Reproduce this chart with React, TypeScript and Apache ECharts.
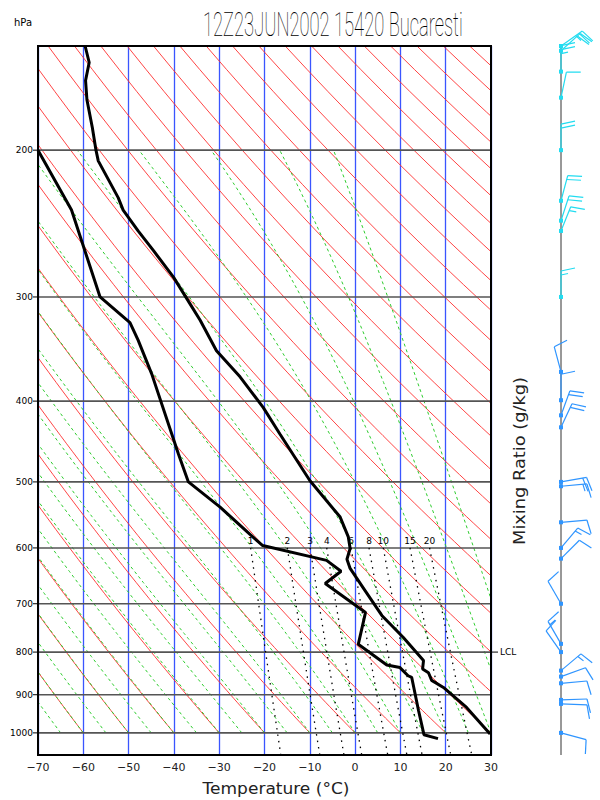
import React, { useEffect, useRef } from 'react';
import * as echarts from 'echarts';

const TITLE = '12Z23JUN2002 15420 Bucaresti';
const X_NAME = 'Temperature (\u00b0C)';
const MIX_NAME = 'Mixing Ratio (g/kg)';
const ISOBARS = [200, 300, 400, 500, 600, 700, 800, 900, 1000];
const THETA_LIST = [-70, -60, -50, -40, -30, -20, -10, 0, 10, 20, 30, 40, 50, 60, 70, 80, 90, 100, 110, 120, 130, 140, 150, 160, 170, 180, 190, 200, 210, 220, 230, 240, 250];
const THETAW_LIST = [-70, -65, -60, -55, -50, -45, -40, -35, -30, -25, -20, -15, -10, -5, 0, 5, 10, 15, 20, 25, 30, 35, 40];
const MIX_LIST = [1, 2, 3, 4, 6, 8, 10, 15, 20];

const TEMP_T = [-59.6, -58.7, -59.5, -59.2, -58.0, -57.2, -56.7, -52.3, -51.2, -47.9, -44.5, -40.1, -36.4, -34.2, -30.6, -25.4, -20.3, -16.6, -10.0, -3.3, -1.5, -1.1, -1.8, -1.1, 2.2, 5.9, 10.6, 15.1, 14.9, 16.2, 16.9, 19.5, 24.6, 29.8];
const TEMP_P = [150, 157, 165, 174, 188, 200, 206, 228, 236, 250, 264, 284, 306, 320, 348, 374, 407, 438, 498, 551, 582, 601, 619, 635, 675, 723, 768, 819, 838, 847, 865, 882, 932, 1003];
const DEW_T = [-70, -62.6, -56.3, -49.7, -47.9, -44.9, -39.0, -36.8, -29.8, -23.2, -20.4, -6.3, -3.1, -6.6, 2.3, 0.7, 7.0, 9.9, 11.7, 12.5, 14.0, 15.2, 18.3];
const DEW_P = [200, 236, 300, 322, 338, 371, 463, 500, 536, 578, 596, 621, 640, 662, 717, 783, 829, 835, 854, 858, 940, 1005, 1016];

const WIND_P = [150, 152, 161, 173, 200, 230, 243, 250, 300, 369, 399, 416, 430, 500, 506, 559, 600, 618, 700, 782, 800, 842, 856, 872, 913, 923, 1000];
const WIND_DIR = [55, 48, 0, 12, 0, 15, 18, 22, 0, 345, 0, 20, 25, 80, 85, 85, 40, 45, 330, 330, 325, 50, 70, 85, 88, 92, 105];
const WIND_SPD = [25, 20, 25, 10, 20, 20, 20, 15, 15, 10, 10, 20, 20, 20, 15, 10, 15, 10, 10, 15, 10, 15, 10, 10, 10, 10, 10];

const LCL_P = 800;
const P_TOP = 150;
const P_BOT = 1063;

function satVap(tc: number) {
  return 6.112 * Math.exp((17.67 * tc) / (tc + 243.5));
}
function dryAdiabat(thC: number) {
  const pts: number[][] = [];
  for (let p = P_TOP; p <= 1000; p += 10) {
    pts.push([(thC + 273.15) * Math.pow(p / 1000, 0.2857) - 273.15, p]);
  }
  return pts;
}
function lapse(T: number, p: number) {
  const Rd = 287.04, cp = 1005.7, Lv = 2.501e6, eps = 0.622;
  const es = satVap(T - 273.15);
  const rs = (eps * es) / (p - es);
  return (Rd * T + Lv * rs) / (p * (cp + (Lv * Lv * rs * eps) / (Rd * T * T)));
}
function moistAdiabat(twC: number) {
  const pts: number[][] = [[twC, 1000]];
  let T = twC + 273.15;
  let p = 1000;
  const dp = -2;
  let i = 0;
  while (p > 200.001) {
    const k1 = lapse(T, p);
    const k2 = lapse(T + (k1 * dp) / 2, p + dp / 2);
    T += k2 * dp;
    p += dp;
    i++;
    if (i % 5 === 0) pts.push([T - 273.15, p]);
  }
  return pts;
}
function mixT(w: number, p: number) {
  const e = (w * p) / (622 + w);
  const l = Math.log(e / 6.112);
  return (243.5 * l) / (17.67 - l);
}
function mixLine(w: number) {
  const pts: number[][] = [];
  for (let p = 600; p <= P_BOT; p += 20) pts.push([mixT(w, p), p]);
  pts.push([mixT(w, P_BOT), P_BOT]);
  return pts;
}

export default function App() {
  const ref = useRef<HTMLDivElement>(null);
  useEffect(() => {
    document.body.style.margin = '0';
    const chart = echarts.init(ref.current!, null, { renderer: 'svg' });
    const ctx = document.createElement('canvas').getContext('2d')!;
    const measure = (t: string, f: string, fallback: number) => {
      ctx.font = f;
      return ctx.measureText(t).width || fallback;
    };
    const titleFont = '100 34px Roboto';
    const titleScale = 260 / measure(TITLE, titleFont, 520);
    const xNameFont = '15px "DejaVu Sans"';
    const xNameScale = 147 / measure(X_NAME, xNameFont, 140);
    const mixFont = '15px "DejaVu Sans"';
    const mixScale = 168 / measure(MIX_NAME, mixFont, 150);

    const series: any[] = [];
    THETA_LIST.forEach((th) => {
      series.push({
        type: 'line', silent: true, symbol: 'none', z: 2,
        data: dryAdiabat(th),
        lineStyle: { color: '#ff3030', width: 0.9 },
      });
    });
    THETAW_LIST.forEach((tw2) => {
      series.push({
        type: 'line', silent: true, symbol: 'none', z: 3,
        data: moistAdiabat(tw2),
        lineStyle: { color: '#2ecc2e', width: 1, type: [3, 3] },
      });
    });
    ISOBARS.forEach((p) => {
      series.push({
        type: 'line', silent: true, symbol: 'none', z: 4,
        data: [[-70, p], [30, p]],
        lineStyle: { color: '#555', width: 1.6 },
      });
    });
    MIX_LIST.forEach((w) => {
      series.push({
        type: 'line', silent: true, symbol: 'none', z: 5,
        data: mixLine(w),
        lineStyle: { color: '#000', width: 1.3, type: [1.5, 5] },
      });
    });
    series.push({
      type: 'custom', z: 6, silent: true, clip: false,
      data: MIX_LIST.map((w) => [mixT(w, 600), 589, w]),
      encode: { x: 0, y: 1 },
      renderItem: (params: any, api: any) => {
        const pt = api.coord([api.value(0), api.value(1)]);
        return {
          type: 'text', x: pt[0], y: pt[1],
          style: { text: String(api.value(2)), align: 'center', verticalAlign: 'middle', font: '9px "DejaVu Sans"', fill: '#000' },
        };
      },
    });
    series.push({
      type: 'line', silent: true, symbol: 'none', z: 10,
      data: DEW_T.map((t, i) => [t, DEW_P[i]]),
      lineStyle: { color: '#000', width: 3 },
    });
    series.push({
      type: 'line', silent: true, symbol: 'none', z: 10,
      data: TEMP_T.map((t, i) => [t, TEMP_P[i]]),
      lineStyle: { color: '#000', width: 3 },
    });
    series.push({
      type: 'custom', z: 11, silent: true, clip: false,
      data: ISOBARS.map((p) => [-70, p]),
      encode: { x: 0, y: 1 },
      renderItem: (params: any, api: any) => {
        const pt = api.coord([api.value(0), api.value(1)]);
        return {
          type: 'group',
          children: [
            { type: 'line', shape: { x1: pt[0] - 5, y1: pt[1], x2: pt[0], y2: pt[1] }, style: { stroke: '#000', lineWidth: 1 } },
            { type: 'text', x: pt[0] - 5, y: pt[1], style: { text: String(api.value(1)), align: 'right', verticalAlign: 'middle', font: '9px "DejaVu Sans"', fill: '#000' } },
          ],
        };
      },
    });
    series.push({
      type: 'custom', z: 11, silent: true, clip: false,
      data: [[30, LCL_P]],
      encode: { x: 0, y: 1 },
      renderItem: (params: any, api: any) => {
        const pt = api.coord([api.value(0), api.value(1)]);
        return {
          type: 'group',
          children: [
            { type: 'line', shape: { x1: pt[0], y1: pt[1], x2: pt[0] + 7, y2: pt[1] }, style: { stroke: '#000', lineWidth: 1 } },
            { type: 'text', x: pt[0] + 9, y: pt[1], style: { text: 'LCL', align: 'left', verticalAlign: 'middle', font: '9px "DejaVu Sans"', fill: '#000' } },
          ],
        };
      },
    });
    series.push({
      type: 'line', silent: true, symbol: 'none', xAxisIndex: 1, yAxisIndex: 1, z: 3,
      data: [[0, P_TOP], [0, P_BOT]],
      lineStyle: { color: '#333', width: 1 },
    });
    series.push({
      type: 'custom', xAxisIndex: 1, yAxisIndex: 1, z: 5, silent: true, clip: false,
      data: WIND_P.map((p, i) => [0, p, WIND_DIR[i], WIND_SPD[i]]),
      encode: { x: 0, y: 1 },
      renderItem: (params: any, api: any) => {
        const p = api.value(1);
        const dir = api.value(2);
        const spd = api.value(3);
        const pt = api.coord([0, p]);
        const cx = pt[0], cy = pt[1];
        const rad = (dir * Math.PI) / 180;
        const dx = Math.sin(rad), dy = -Math.cos(rad);
        const px = -dy, py = dx;
        const L = 26;
        const ex = cx + dx * L, ey = cy + dy * L;
        const col = p < 330 ? '#22dcf0' : '#2f95ff';
        const children: any[] = [
          { type: 'line', shape: { x1: cx, y1: cy, x2: ex, y2: ey }, style: { stroke: col, lineWidth: 1.2 } },
          { type: 'rect', shape: { x: cx - 2, y: cy - 2, width: 4, height: 4 }, style: { fill: col } },
        ];
        let rem = Math.round(spd / 5) * 5;
        let pos = 0;
        while (rem >= 50) {
          const bx = ex - dx * pos, by = ey - dy * pos;
          children.push({ type: 'polygon', shape: { points: [[bx, by], [bx + px * 14, by + py * 14], [bx - dx * 6, by - dy * 6]] }, style: { fill: col } });
          rem -= 50; pos += 7;
        }
        while (rem >= 10) {
          const bx = ex - dx * pos, by = ey - dy * pos;
          children.push({ type: 'line', shape: { x1: bx, y1: by, x2: bx + px * 14 + dx * 3, y2: by + py * 14 + dy * 3 }, style: { stroke: col, lineWidth: 1.2 } });
          rem -= 10; pos += 4;
        }
        if (rem >= 5) {
          const bx = ex - dx * pos, by = ey - dy * pos;
          children.push({ type: 'line', shape: { x1: bx, y1: by, x2: bx + px * 7 + dx * 1.5, y2: by + py * 7 + dy * 1.5 }, style: { stroke: col, lineWidth: 1.2 } });
        }
        return { type: 'group', children };
      },
    });

    const option: any = {
      animation: false,
      backgroundColor: '#fff',
      grid: [
        { left: 38, right: 109, top: 46, bottom: 45 },
        { left: 541, width: 40, top: 46, bottom: 45 },
      ],
      xAxis: [
        {
          type: 'value', gridIndex: 0, min: -70, max: 30, interval: 10,
          axisLine: { show: false }, axisTick: { show: false },
          axisLabel: {
            fontSize: 11, color: '#222', margin: 7, fontFamily: 'DejaVu Sans',
            formatter: (v: number) => (v < 0 ? '\u2212' + Math.abs(v) : String(v)),
          },
          splitLine: { show: true, lineStyle: { color: '#3a55ff', width: 1.3 } },
        },
        { type: 'value', gridIndex: 1, min: -1, max: 1, show: false },
      ],
      yAxis: [
        {
          type: 'log', gridIndex: 0, min: P_TOP, max: P_BOT, inverse: true,
          axisLine: { show: false }, axisTick: { show: false }, axisLabel: { show: false }, splitLine: { show: false },
        },
        { type: 'log', gridIndex: 1, min: P_TOP, max: P_BOT, inverse: true, show: false },
      ],
      graphic: [
        { type: 'rect', z: 100, silent: true, shape: { x: 38, y: 46, width: 453, height: 709 }, style: { fill: 'none', stroke: '#000', lineWidth: 2 } },
        { type: 'text', z: 100, x: 203, y: 25, scaleX: titleScale, style: { text: TITLE, font: titleFont, fill: '#000', align: 'left', verticalAlign: 'middle' } },
        { type: 'text', z: 100, x: 14, y: 22, style: { text: 'hPa', font: '10px "DejaVu Sans"', fill: '#000', align: 'left', verticalAlign: 'middle' } },
        { type: 'text', z: 100, x: 276, y: 789, scaleX: xNameScale, style: { text: X_NAME, font: xNameFont, fill: '#222', align: 'center', verticalAlign: 'middle' } },
        { type: 'text', z: 100, x: 520, y: 461, rotation: Math.PI / 2, scaleX: mixScale, style: { text: MIX_NAME, font: mixFont, fill: '#222', align: 'center', verticalAlign: 'middle' } },
      ],
      series,
    };
    chart.setOption(option);
    return () => chart.dispose();
  }, []);
  return <div ref={ref} style={{ position: 'fixed', left: 0, top: 0, width: 600, height: 800 }} />;
}
